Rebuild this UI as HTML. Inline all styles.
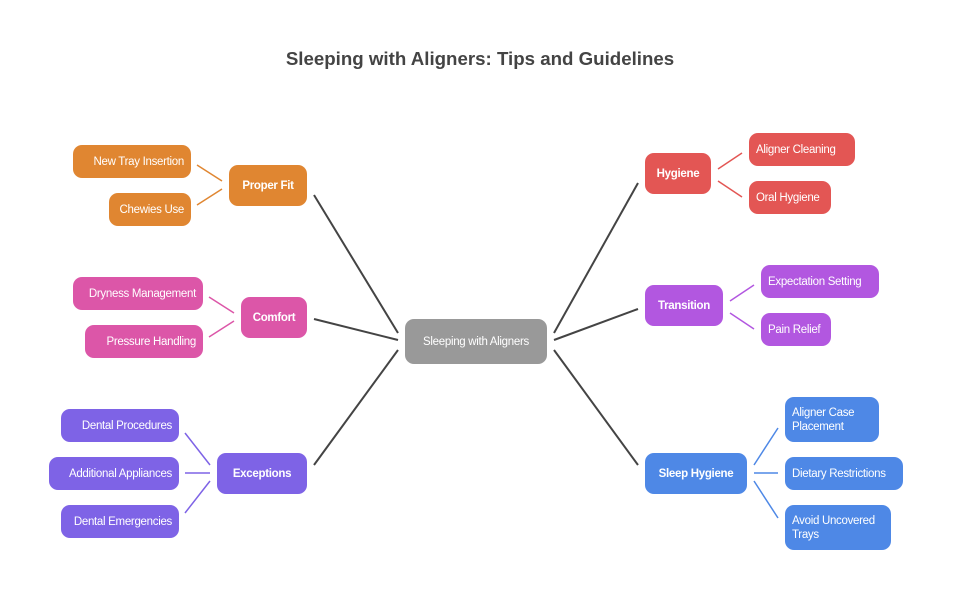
<!DOCTYPE html>
<html><head><meta charset="utf-8"><style>
body{margin:0;width:960px;height:599px;background:#fff;position:relative;overflow:hidden;font-family:"Liberation Sans",sans-serif}
.t{position:absolute;left:0;width:960px;top:48px;text-align:center;font-size:18.7px;font-weight:bold;color:#444}
.b{position:absolute;box-sizing:border-box;border-radius:9px;color:#fff;font-size:11.5px;display:flex;align-items:center;padding:0 7px;line-height:14px;letter-spacing:-0.3px;white-space:nowrap}
.w{white-space:normal}
.r{justify-content:flex-end;text-align:right}
.m{font-weight:bold;justify-content:center}
.o{background:#E08631}.p{background:#DC56A8}.v{background:#7E63E6}.h{background:#E35654}.tr{background:#B257E0}.bl{background:#4E88E6}
svg{position:absolute;left:0;top:0}
</style></head><body>
<div class="t">Sleeping with Aligners: Tips and Guidelines</div>
<svg width="960" height="599">
<g stroke="#444" stroke-width="2">
<line x1="398" y1="333" x2="314" y2="195"/><line x1="398" y1="340" x2="314" y2="319"/><line x1="398" y1="350" x2="314" y2="465"/>
<line x1="554" y1="333" x2="638" y2="183"/><line x1="554" y1="340" x2="638" y2="309"/><line x1="554" y1="350" x2="638" y2="465"/>
</g>
<g stroke-width="1.5">
<line stroke="#E08631" x1="197" y1="165" x2="222" y2="181"/><line stroke="#E08631" x1="197" y1="205" x2="222" y2="189"/>
<line stroke="#DC56A8" x1="209" y1="297" x2="234" y2="313"/><line stroke="#DC56A8" x1="209" y1="337" x2="234" y2="321"/>
<line stroke="#7E63E6" x1="185" y1="433" x2="210" y2="465"/><line stroke="#7E63E6" x1="185" y1="473" x2="210" y2="473"/><line stroke="#7E63E6" x1="185" y1="513" x2="210" y2="481"/>
<line stroke="#E35654" x1="718" y1="169" x2="742" y2="153"/><line stroke="#E35654" x1="718" y1="181" x2="742" y2="197"/>
<line stroke="#B257E0" x1="730" y1="301" x2="754" y2="285"/><line stroke="#B257E0" x1="730" y1="313" x2="754" y2="329"/>
<line stroke="#4E88E6" x1="754" y1="465" x2="778" y2="428"/><line stroke="#4E88E6" x1="754" y1="473" x2="778" y2="473"/><line stroke="#4E88E6" x1="754" y1="481" x2="778" y2="518"/>
</g>
</svg>
<div class="b" style="left:405px;top:319px;width:142px;height:45px;background:#999;justify-content:center">Sleeping with Aligners</div>
<div class="b o m" style="left:229px;top:165px;width:78px;height:41px">Proper Fit</div>
<div class="b o r" style="left:73px;top:145px;width:118px;height:33px">New Tray Insertion</div>
<div class="b o r" style="left:109px;top:193px;width:82px;height:33px">Chewies Use</div>
<div class="b p m" style="left:241px;top:297px;width:66px;height:41px">Comfort</div>
<div class="b p r" style="left:73px;top:277px;width:130px;height:33px">Dryness Management</div>
<div class="b p r" style="left:85px;top:325px;width:118px;height:33px">Pressure Handling</div>
<div class="b v m" style="left:217px;top:453px;width:90px;height:41px">Exceptions</div>
<div class="b v r" style="left:61px;top:409px;width:118px;height:33px">Dental Procedures</div>
<div class="b v r" style="left:49px;top:457px;width:130px;height:33px">Additional Appliances</div>
<div class="b v r" style="left:61px;top:505px;width:118px;height:33px">Dental Emergencies</div>
<div class="b h m" style="left:645px;top:153px;width:66px;height:41px">Hygiene</div>
<div class="b h" style="left:749px;top:133px;width:106px;height:33px">Aligner Cleaning</div>
<div class="b h" style="left:749px;top:181px;width:82px;height:33px">Oral Hygiene</div>
<div class="b tr m" style="left:645px;top:285px;width:78px;height:41px">Transition</div>
<div class="b tr" style="left:761px;top:265px;width:118px;height:33px">Expectation Setting</div>
<div class="b tr" style="left:761px;top:313px;width:70px;height:33px">Pain Relief</div>
<div class="b bl m" style="left:645px;top:453px;width:102px;height:41px">Sleep Hygiene</div>
<div class="b bl w" style="left:785px;top:397px;width:94px;height:45px">Aligner Case Placement</div>
<div class="b bl" style="left:785px;top:457px;width:118px;height:33px">Dietary Restrictions</div>
<div class="b bl w" style="left:785px;top:505px;width:106px;height:45px">Avoid Uncovered Trays</div>
</body></html>
